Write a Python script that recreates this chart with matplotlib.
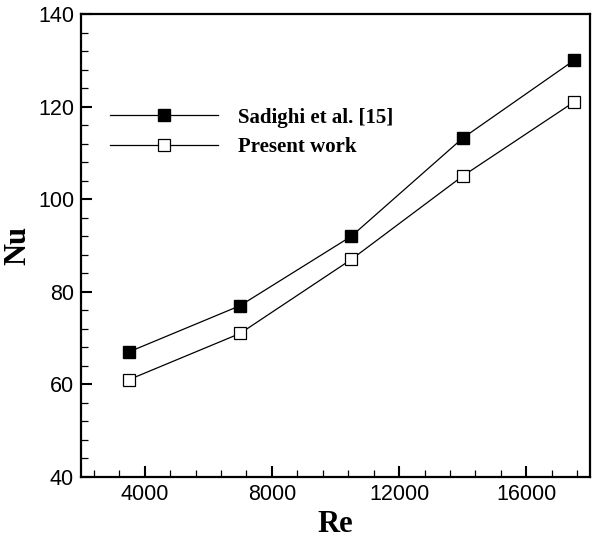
import numpy as np
import matplotlib
matplotlib.use('Agg')
import matplotlib.pyplot as plt
from matplotlib.ticker import MultipleLocator

# data
re_values = [3500, 7000, 10500, 14000, 17500]
nu_sadighi = [67, 77, 92, 113.2, 130]
nu_present = [61, 71, 87, 105, 121]
series_labels = ['Sadighi et al. [15]', 'Present work']

x_ticks = [4000, 8000, 12000, 16000]
y_ticks = [40, 60, 80, 100, 120, 140]


def plot_nu_re():
    fig = plt.figure(figsize=(6.08, 5.38), dpi=100)
    ax = fig.add_axes([0.1332, 0.1134, 0.8372, 0.8606])

    ax.plot(re_values, nu_sadighi, color='black', lw=0.9, marker='s',
            ms=8.4, mfc='black', mec='black', label=series_labels[0])
    ax.plot(re_values, nu_present, color='black', lw=0.9, marker='s',
            ms=8.4, mfc='white', mec='black', mew=0.9, label=series_labels[1])

    ax.set_xlim(2000, 18000)
    ax.set_ylim(40, 140)
    ax.set_xticks(x_ticks)
    ax.set_yticks(y_ticks)
    ax.xaxis.set_minor_locator(MultipleLocator(800))
    ax.yaxis.set_minor_locator(MultipleLocator(4))

    ax.tick_params(which='major', direction='in', length=7.7, width=1.5,
                   labelsize=15.5, pad=5)
    ax.tick_params(which='minor', direction='in', length=5, width=0.9)
    for lab in ax.get_xticklabels() + ax.get_yticklabels():
        lab.set_family('Liberation Sans')
    for sp in ax.spines.values():
        sp.set_linewidth(1.6)

    ax.set_xlabel('Re', family='Liberation Serif', fontweight='bold',
                  fontsize=22, labelpad=4)
    ax.set_ylabel('Nu', family='Liberation Serif', fontweight='bold',
                  fontsize=22, labelpad=4)

    ax.legend(loc='upper left', bbox_to_anchor=(0.057, 0.798), frameon=False,
              prop={'family': 'Liberation Serif', 'weight': 'bold', 'size': 15},
              handlelength=5.2, handletextpad=0.95, labelspacing=0.45,
              borderpad=0, borderaxespad=0)

    fig.savefig('out.png', dpi=100)


if __name__ == '__main__':
    plot_nu_re()
